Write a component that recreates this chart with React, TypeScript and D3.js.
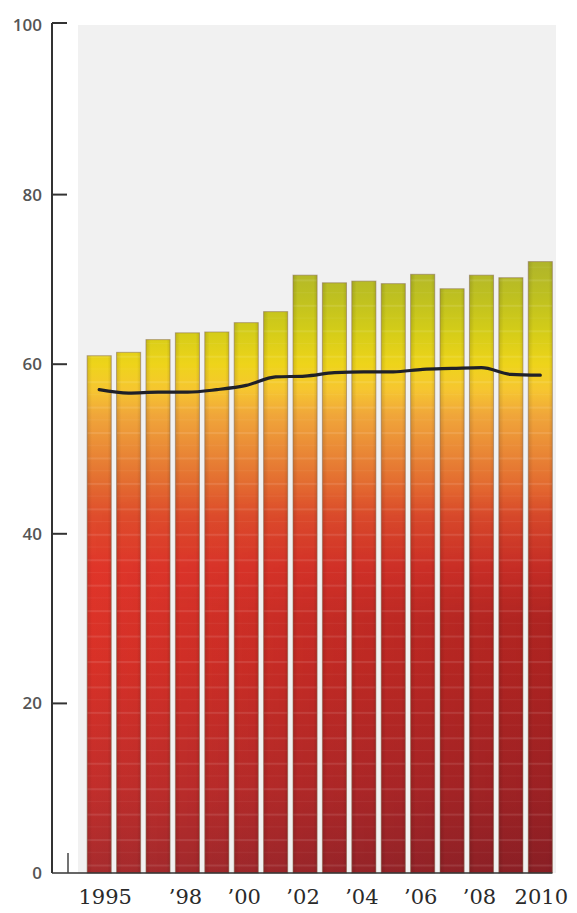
import React from "react";
import * as d3 from "d3";

const years = [1995, 1996, 1997, 1998, 1999, 2000, 2001, 2002, 2003, 2004, 2005, 2006, 2007, 2008, 2009, 2010];
const barValues = [61.0, 61.4, 62.9, 63.7, 63.8, 64.9, 66.2, 70.5, 69.6, 69.8, 69.5, 70.6, 68.9, 70.5, 70.2, 72.1];
const lineValues = [57.0, 56.6, 56.7, 56.7, 57.0, 57.5, 58.5, 58.6, 59.0, 59.1, 59.1, 59.4, 59.5, 59.6, 58.8, 58.7];
const yTicks = [0, 20, 40, 60, 80, 100];
const xLabelYears = [1995, 1998, 2000, 2002, 2004, 2006, 2008, 2010];
const xLabelTexts = ["1995", "\u201998", "\u201900", "\u201902", "\u201904", "\u201906", "\u201908", "2010"];

const gradStopValues = [0, 10, 25, 36, 42, 46, 50, 54, 57, 60, 64, 68, 72, 100];
const gradStopColors = ["#a82c2e", "#c22f2c", "#d93228", "#e0362a", "#df4c2c", "#e36c30", "#ea8a36", "#f0a63a", "#f6c630", "#eed41a", "#d3cc18", "#bec020", "#b0b52a", "#a8b030"];

const W = 577;
const H = 913;

export default function App() {
  const y = d3.scaleLinear().domain([0, 100]).range([873, 25]);
  const x = d3
    .scaleBand<number>()
    .domain(years)
    .range([84.5, 555])
    .paddingInner(0.18)
    .paddingOuter(0.09);
  const bw = x.bandwidth();
  const cx = (yr: number) => (x(yr) as number) + bw / 2;

  const line = d3
    .line<number>()
    .x((_, i) => cx(years[i]))
    .y((v) => y(v))
    .curve(d3.curveMonotoneX);

  const axisX = 52;
  const x0 = x(years[0]) as number;
  const x1 = (x(years[years.length - 1]) as number) + bw;

  return (
    <svg
      width={W}
      height={H}
      style={{ position: "absolute", left: 0, top: 0, display: "block", background: "#ffffff" }}
    >
      <defs>
        <linearGradient id="vgrad" gradientUnits="userSpaceOnUse" x1="0" x2="0" y1={y(0)} y2={y(100)}>
          {gradStopValues.map((v, i) => (
            <stop key={i} offset={`${v}%`} stopColor={gradStopColors[i]} />
          ))}
        </linearGradient>
        <linearGradient id="hgrad" gradientUnits="userSpaceOnUse" x1={x0} x2={x1} y1="0" y2="0">
          <stop offset="0%" stopColor="#400010" stopOpacity="0" />
          <stop offset="100%" stopColor="#400010" stopOpacity="0.3" />
        </linearGradient>
        <linearGradient id="vmaskgrad" gradientUnits="userSpaceOnUse" x1="0" x2="0" y1={y(0)} y2={y(100)}>
          <stop offset="0%" stopColor="#fff" />
          <stop offset="30%" stopColor="#fff" />
          <stop offset="45%" stopColor="#000" />
          <stop offset="100%" stopColor="#000" />
        </linearGradient>
        <mask id="vmask" maskUnits="userSpaceOnUse" x="0" y="0" width={W} height={H}>
          <rect x="0" y="0" width={W} height={H} fill="url(#vmaskgrad)" />
        </mask>
        <pattern
          id="stripes"
          patternUnits="userSpaceOnUse"
          x="0"
          y={y(100)}
          width="10"
          height={y(0) - y(3)}
        >
          <rect x="0" y="0" width="10" height="2" fill="#ffffff" opacity="0.1" />
          <rect x="0" y={(y(0) - y(3)) / 2} width="10" height="1" fill="#ffffff" opacity="0.05" />
        </pattern>
        <linearGradient id="edge" x1="0" x2="1" y1="0" y2="0">
          <stop offset="0%" stopColor="#000" stopOpacity="0.12" />
          <stop offset="20%" stopColor="#000" stopOpacity="0" />
          <stop offset="85%" stopColor="#000" stopOpacity="0" />
          <stop offset="100%" stopColor="#000" stopOpacity="0.1" />
        </linearGradient>
      </defs>

      {/* light panel */}
      <rect x={78} y={y(100)} width={478} height={y(0) - y(100)} fill="#f1f1f1" />

      {/* bars */}
      <g>
        {years.map((yr, i) => (
          <rect
            key={yr}
            x={x(yr)}
            y={y(barValues[i])}
            width={bw}
            height={y(0) - y(barValues[i])}
            fill="url(#vgrad)"
          />
        ))}
      </g>
      <g mask="url(#vmask)">
        {years.map((yr, i) => (
          <rect
            key={yr}
            x={x(yr)}
            y={y(barValues[i])}
            width={bw}
            height={y(0) - y(barValues[i])}
            fill="url(#hgrad)"
          />
        ))}
      </g>
      <g>
        {years.map((yr, i) => (
          <rect
            key={yr}
            x={x(yr)}
            y={y(barValues[i])}
            width={bw}
            height={y(0) - y(barValues[i])}
            fill="url(#stripes)"
          />
        ))}
      </g>
      <g>
        {years.map((yr, i) => (
          <rect
            key={yr}
            x={x(yr)}
            y={y(barValues[i])}
            width={bw}
            height={y(0) - y(barValues[i])}
            fill="url(#edge)"
            stroke="#8a7058"
            strokeOpacity={0.55}
            strokeWidth={1}
          />
        ))}
      </g>

      {/* average line */}
      <path d={line(lineValues) || ""} fill="none" stroke="#1f2028" strokeWidth={3.2} strokeLinecap="round" />

      {/* axes */}
      <line x1={axisX} x2={axisX} y1={y(100) - 2} y2={y(0)} stroke="#333" strokeWidth={2} />
      <line x1={axisX} x2={x1} y1={y(0)} y2={y(0)} stroke="#333" strokeWidth={1.6} />
      <line x1={68} x2={68} y1={y(0) - 20} y2={y(0)} stroke="#444" strokeWidth={1.5} />
      {yTicks
        .filter((t) => t !== 0)
        .map((t) => (
          <line key={t} x1={axisX} x2={axisX + 15} y1={y(t) - (t === 100 ? 2 : 0)} y2={y(t) - (t === 100 ? 2 : 0)} stroke="#333" strokeWidth={2} />
        ))}
      {yTicks.map((t) => (
        <text
          key={t}
          x={42}
          y={y(t)}
          dy="0.35em"
          textAnchor="end"
          fontFamily="'Open Sans', 'DejaVu Sans', sans-serif"
          fontWeight={600}
          fontSize={17}
          fill="#555"
        >
          {t}
        </text>
      ))}

      {/* x labels */}
      {xLabelYears.map((yr, i) => (
        <text
          key={yr}
          x={cx(yr) + (i === 0 ? 6 : i === xLabelYears.length - 1 ? 1 : -2)}
          y={904}
          textAnchor="middle"
          fontFamily="'DejaVu Serif', 'Liberation Serif', serif"
          fontSize={21}
          fill="#2a2a2a"
          style={{ fontVariantNumeric: "oldstyle-nums" }}
        >
          {xLabelTexts[i]}
        </text>
      ))}
    </svg>
  );
}
